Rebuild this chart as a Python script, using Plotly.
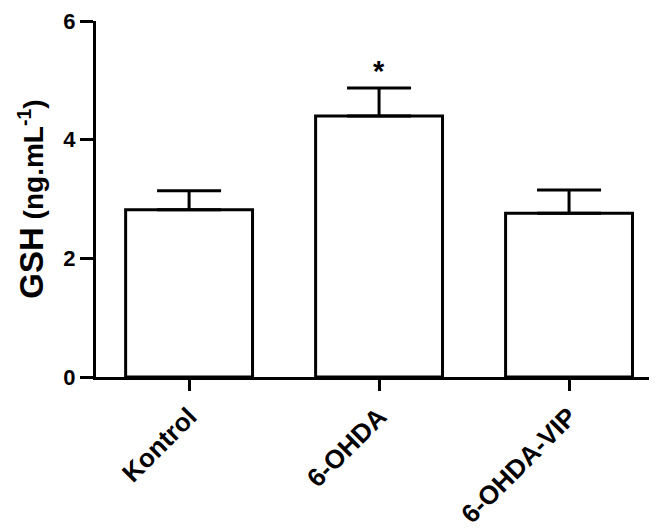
import plotly.graph_objects as go

categories = ["Kontrol", "6-OHDA", "6-OHDA-VIP"]
means = [2.82, 4.40, 2.76]
sem = [0.32, 0.47, 0.39]
significance = ["", "*", ""]
y_ticks = [0, 2, 4, 6]

FONT = "Arial, 'Liberation Sans', sans-serif"

fig = go.Figure()
fig.add_trace(go.Bar(
    x=categories, y=means,
    marker=dict(color="white", line=dict(color="black", width=3)),
    width=0.668,
    error_y=dict(type="data", array=sem, arrayminus=[0] * len(sem),
                 symmetric=False, color="black", thickness=3, width=32),
))

for c, m, e, s in zip(categories, means, sem, significance):
    if s:
        fig.add_annotation(x=c, y=m + e, text="<b>" + s + "</b>", showarrow=False,
                           yanchor="bottom", yshift=-1,
                           font=dict(family=FONT, size=29, color="black"))

fig.update_layout(
    width=649, height=523,
    margin=dict(l=88, r=0, t=13, b=154, autoexpand=False),
    plot_bgcolor="white", paper_bgcolor="white",
    showlegend=False,
    font=dict(family=FONT, color="black"),
)
fig.update_xaxes(
    range=[-0.49, 2.463], showline=True, linewidth=3, linecolor="black",
    ticks="outside", ticklen=11, tickwidth=3, tickcolor="black",
    tickangle=-45, tickfont=dict(family=FONT, size=26, color="black"),
    tickvals=categories, ticktext=["<b>" + c + "</b>" for c in categories],
    showgrid=False, zeroline=False, automargin=False, ticklabeloverflow="allow",
)
fig.update_yaxes(
    range=[0, 6], tickvals=y_ticks, ticktext=["<b>%d</b>" % v for v in y_ticks],
    showline=True, linewidth=3, linecolor="black",
    ticks="outside", ticklen=13, tickwidth=3, tickcolor="black",
    tickfont=dict(family=FONT, size=22, color="black"),
    showgrid=False, zeroline=False, automargin=False, ticklabeloverflow="allow",
    title=dict(text="<b><span style='font-size:33px'>GSH</span> (ng.mL<sup>-1</sup>)</b>",
               font=dict(family=FONT, size=28, color="black"), standoff=12),
)

fig.write_html("out.html")
